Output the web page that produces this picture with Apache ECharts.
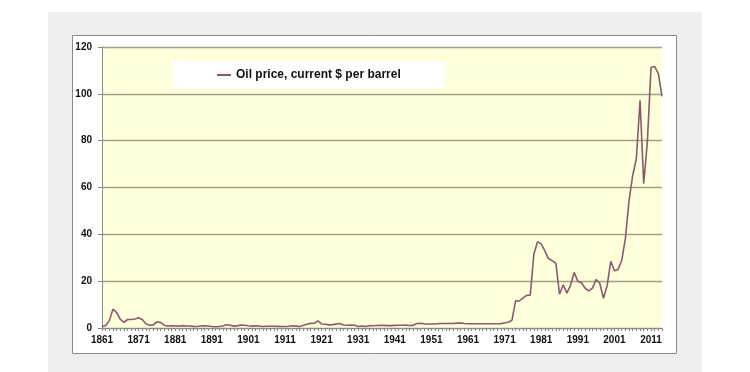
<!DOCTYPE html>
<html>
<head>
<meta charset="utf-8">
<script src="https://cdn.jsdelivr.net/npm/echarts@6/dist/echarts.min.js"></script>
<style>html,body{margin:0;padding:0;background:#fff;}#c{width:750px;height:372px;}</style>
</head>
<body>
<div id="c"></div>
<script>
const firstYear = 1861;
const prices = [
0.49,1.05,3.15,8.06,6.59,3.74,2.41,3.63,3.64,3.86,
4.34,3.64,1.83,1.17,1.35,2.56,2.42,1.19,0.86,0.95,
0.86,0.78,1.00,0.84,0.88,0.71,0.67,0.88,0.94,0.87,
0.67,0.56,0.64,0.84,1.36,1.18,0.79,0.91,1.29,1.19,
0.96,0.80,0.94,0.86,0.62,0.73,0.72,0.72,0.70,0.61,
0.61,0.74,0.95,0.81,0.64,1.10,1.56,1.98,2.01,3.07,
1.73,1.61,1.34,1.43,1.68,1.88,1.30,1.17,1.27,1.19,
0.65,0.87,0.67,1.00,0.97,1.09,1.18,1.13,1.02,1.02,
1.14,1.19,1.20,1.21,1.05,1.12,1.90,1.99,1.78,1.71,
1.71,1.71,1.93,1.93,1.93,1.93,1.90,2.08,2.08,1.90,
1.80,1.80,1.80,1.80,1.80,1.80,1.80,1.80,1.80,1.80,
2.24,2.48,3.29,11.58,11.53,12.80,13.92,14.02,31.61,36.83,
35.93,32.97,29.55,28.78,27.56,14.43,18.44,14.92,18.23,23.73,
20.00,19.32,16.97,15.82,17.02,20.67,19.09,12.72,17.97,28.50,
24.44,25.02,28.83,38.27,54.52,65.14,72.39,97.26,61.67,79.50,
111.26,111.67,108.66,98.95
];
const years = prices.map((_, i) => String(firstYear + i));
const yTicks = [0, 20, 40, 60, 80, 100, 120];
const seriesName = 'Oil price, current $ per barrel';

const chart = echarts.init(document.getElementById('c'), null, {renderer: 'canvas'});
chart.setOption({
  animation: false,
  backgroundColor: '#ffffff',
  graphic: [
    {type: 'rect', z: -10, shape: {x: 48, y: 12, width: 654, height: 362}, style: {fill: '#eeeeee'}},
    {type: 'rect', z: -9, shape: {x: 72.5, y: 35.5, width: 604, height: 318}, style: {fill: '#ffffff', stroke: '#8a8a8a', lineWidth: 1}}
  ],
  grid: {left: 102, right: 88, top: 47, bottom: 44, show: true, backgroundColor: '#ffffdc', borderWidth: 0},
  legend: {
    left: 172, top: 61,
    backgroundColor: '#ffffff',
    padding: [8, 44, 7, 45],
    itemWidth: 14, itemHeight: 2,
    icon: 'rect',
    textStyle: {fontFamily: 'Liberation Sans, Arial', fontWeight: 'bold', fontSize: 12, color: '#111'},
    data: [seriesName]
  },
  xAxis: {
    type: 'category',
    data: years,
    boundaryGap: false,
    axisLine: {lineStyle: {color: '#8a8a8a', width: 1}},
    axisTick: {show: true, interval: 0, length: 3, lineStyle: {color: '#8a8a8a'}},
    axisLabel: {interval: 9, margin: 7, fontFamily: 'Liberation Sans, Arial', fontWeight: 'bold', fontSize: 10, color: '#111'},
    splitLine: {show: false}
  },
  yAxis: {
    type: 'value',
    min: 0, max: 120, interval: 20,
    axisLine: {show: true, lineStyle: {color: '#8a8a8a', width: 1}},
    axisTick: {show: true, length: 4, lineStyle: {color: '#8a8a8a'}},
    axisLabel: {margin: 10, fontFamily: 'Liberation Sans, Arial', fontWeight: 'bold', fontSize: 10, color: '#111',
      formatter: v => yTicks.includes(v) ? String(v) : ''},
    splitLine: {show: true, lineStyle: {color: '#a19f86', width: 1.3}}
  },
  series: [{
    name: seriesName,
    type: 'line',
    data: prices,
    showSymbol: false,
    symbol: 'none',
    color: '#8c5a6c',
    lineStyle: {color: '#8c5a6c', width: 1.6},
    itemStyle: {color: '#8c5a6c'}
  }]
});
</script>
</body>
</html>
